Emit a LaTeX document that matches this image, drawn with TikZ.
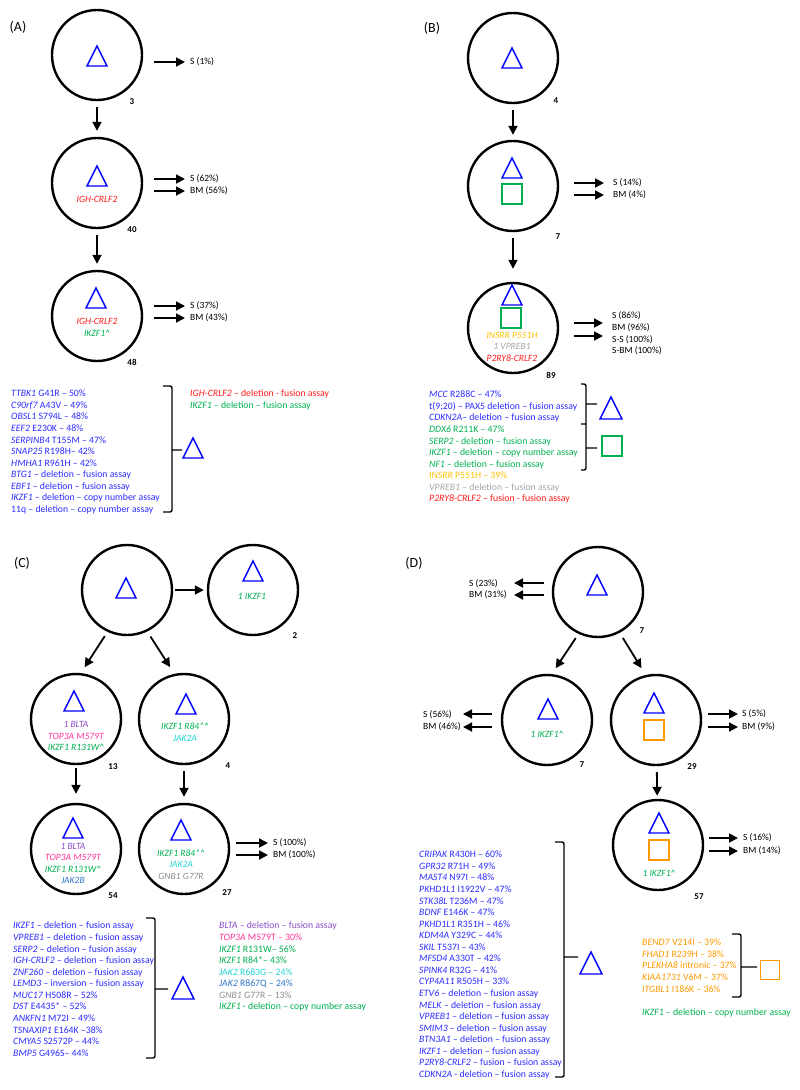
\documentclass[tikz,border=0pt]{standalone}
\usepackage{fontspec}
\setmainfont{Carlito}
\usetikzlibrary{arrows.meta,positioning,calc}
\definecolor{cblue}{HTML}{0000FF}
\definecolor{tblue}{HTML}{2B2BFF}
\definecolor{cred}{HTML}{FF1A1A}
\definecolor{cgreen}{HTML}{00B050}
\definecolor{cgold}{HTML}{FFC000}
\definecolor{cgray}{HTML}{A6A6A6}
\definecolor{cdgray}{HTML}{8C8C8C}
\definecolor{cpurple}{HTML}{8A4CC8}
\definecolor{cpink}{HTML}{FF3399}
\definecolor{ccyan}{HTML}{22D4D4}
\definecolor{csteel}{HTML}{2E75C6}
\definecolor{corange}{HTML}{FF9900}
\tikzset{
  clone/.style={circle,draw,line width=2.4bp,minimum size=90bp,inner sep=0pt},
  arr/.style={-{Triangle[length=9bp,width=9bp]},line width=1.8bp},
  cnt/.style={font=\fontsize{9}{10}\selectfont\bfseries,inner sep=0pt},
  lab/.style={font=\fontsize{9.5}{11.6}\selectfont,inner sep=0pt,align=left},
  mut/.style={font=\fontsize{9.6}{11.6}\selectfont\itshape,align=center,inner sep=0pt},
  list/.style={font=\fontsize{9.8}{11.6}\selectfont,align=left,inner sep=0pt,anchor=north west},
  panel/.style={font=\fontsize{14}{16}\selectfont,inner sep=0pt},
  brk/.style={line width=1.4bp,rounded corners=2bp},
  tri/.pic={\draw[cblue,line width=1.4bp] (-10,10) -- (10,10) -- (0,-10) -- cycle;},
  sq/.pic={\draw[line width=1.4bp,pic actions] (-10,-10) rectangle (10,10);},
}
\begin{document}
\begin{tikzpicture}[x=1bp,y=-1bp]
\useasboundingbox (0,0) rectangle (800,1090);

% ---- (A) --------------------------------------------------
\node[panel] (pA) at (18,27) {(A)};
\node[clone] (a1) at (97,55) {};
\pic at (97,56) {tri};
\node[cnt] (a1n) at (132,102) {3};
\node[lab,anchor=west] (a1s) at (190,62) {S (1\%)};
\draw[arr,shorten <=11bp,shorten >=5bp] (a1.east |- a1s.west) -- (a1s.west);

\node[clone] (a2) at (97,183) {};
\pic at (97,176) {tri};
\node[mut,text=cred] (a2m) at (97,199) {IGH-CRLF2};
\node[cnt] (a2n) at (132,230) {40};
\node[lab,anchor=west] (a2s) at (190,179) {S (62\%)};
\node[lab,anchor=west] (a2b) at (190,191) {BM (56\%)};
\draw[arr,shorten <=11bp,shorten >=5bp] (a2.east |- a2s.west) -- (a2s.west);
\draw[arr,shorten <=11bp,shorten >=5bp] (a2.east |- a2b.west) -- (a2b.west);

\node[clone] (a3) at (97,316) {};
\pic at (96,298) {tri};
\node[mut] (a3m) at (97,327.5) {\textcolor{cred}{IGH-CRLF2}\\\textcolor{cgreen}{IKZF1\textasciicircum}};
\node[cnt] (a3n) at (132,362) {48};
\node[lab,anchor=west] (a3s) at (190,306) {S (37\%)};
\node[lab,anchor=west] (a3b) at (190,318) {BM (43\%)};
\draw[arr,shorten <=11bp,shorten >=5bp] (a3.east |- a3s.west) -- (a3s.west);
\draw[arr,shorten <=11bp,shorten >=5bp] (a3.east |- a3b.west) -- (a3b.west);

\draw[arr,shorten <=6bp,shorten >=6bp] (a1) -- (a2);
\draw[arr,shorten <=6bp,shorten >=6bp] (a2) -- (a3);

% A mutations
\node[list,text=tblue] (aL) at (11,390) {\textit{TTBK1} G41R – 50\%\\
  \textit{C90rf7} A43V – 49\%\\
  \textit{OBSL1} S794L – 48\%\\
  \textit{EEF2} E230K – 48\%\\
  \textit{SERPINB4} T155M – 47\%\\
  \textit{SNAP25} R198H– 42\%\\
  \textit{HMHA1} R961H – 42\%\\
  \textit{BTG1} – deletion – fusion assay\\
  \textit{EBF1} – deletion – fusion assay\\
  \textit{IKZF1} – deletion – copy number assay\\
  11q – deletion – copy number assay};
\draw[brk] (163,386) -- (172,386) -- (172,512) -- (163,512) (172,450) -- (182,450);
\pic at (193,448) {tri};
\node[list,text=cred] (aR) at (190,390) {\textit{IGH-CRLF2} – deletion - fusion assay\\
  \textcolor{cgreen}{\textit{IKZF1} – deletion – fusion assay}};

% ---- (B) --------------------------------------------------
\node[panel] (pB) at (432,28) {(B)};
\node[clone] (b1) at (513,58) {};
\pic at (512,58) {tri};
\node[cnt] (b1n) at (556,101) {4};

\node[clone] (b2) at (513,186) {};
\pic at (512,168) {tri};
\pic[draw=cgreen] at (512,194) {sq};
\node[cnt] (b2n) at (558,237) {7};
\node[lab,anchor=west] (b2s) at (613,183) {S (14\%)};
\node[lab,anchor=west] (b2b) at (613,195) {BM (4\%)};
\draw[arr,shorten <=15bp,shorten >=9bp] (b2.east |- b2s.west) -- (b2s.west);
\draw[arr,shorten <=15bp,shorten >=9bp] (b2.east |- b2b.west) -- (b2b.west);

\node[clone] (b3) at (513,328) {};
\pic at (512,295) {tri};
\pic[draw=cgreen] at (511,318) {sq};
\node[mut] (b3m) at (512,346.5) {\textcolor{cgold}{INSRR P551H}\\\textcolor{cgray}{1 VPREB1}\\\textcolor{cred}{P2RY8-CRLF2}};
\node[cnt] (b3n) at (551,375) {89};
\node[lab,anchor=west] (b3s) at (612,333.5) {S (86\%)\\BM (96\%)\\S-S (100\%)\\S-BM (100\%)};
\coordinate (b3t1) at (603,323);
\coordinate (b3t2) at (603,336);
\draw[arr,shorten <=15bp] (b3.east |- b3t1) -- (b3t1);
\draw[arr,shorten <=15bp] (b3.east |- b3t2) -- (b3t2);

\draw[arr,shorten <=6bp,shorten >=5bp] (b1) -- (b2);
\draw[arr,shorten <=6bp,shorten >=13bp] (b2) -- (b3);

% B mutations
\node[list,text=tblue] (bL) at (429,391) {\textit{MCC} R288C – 47\%\\
  t(9;20) – PAX5 deletion – fusion assay\\
  \textit{CDKN2A}– deletion – fusion assay\\
  \textcolor{cgreen}{\textit{DDX6} R211K – 47\%}\\
  \textcolor{cgreen}{\textit{SERP2} - deletion – fusion assay}\\
  \textcolor{cgreen}{\textit{IKZF1} – deletion – copy number assay}\\
  \textcolor{cgreen}{\textit{NF1} – deletion – fusion assay}\\
  \textcolor{cgold}{\textit{INSRR} P551H – 39\%}\\
  \textcolor{cgray}{\textit{VPREB1} – deletion – fusion assay}\\
  \textcolor{cred}{\textit{P2RY8-CRLF2} – fusion - fusion assay}};
\draw[brk] (581,384) -- (586,384) -- (586,470) -- (581,470)
  (581,424) -- (586,424) (586,404) -- (597,404) (586,448) -- (597,448);
\pic[scale=1.1] at (611,408) {tri};
\pic[draw=cgreen] at (612,446) {sq};

% ---- (C) --------------------------------------------------
\node[panel] (pC) at (22,563) {(C)};
\node[clone] (c1) at (127,590) {};
\pic at (126,588) {tri};

\node[clone] (c2) at (253,590) {};
\pic at (253,571) {tri};
\node[mut,text=cgreen] (c2m) at (252,596) {1 IKZF1};
\node[cnt] (c2n) at (295,636) {2};

\node[clone] (c3) at (76,719) {};
\pic at (74,701) {tri};
\node[mut] (c3m) at (76,736) {\textcolor{cpurple}{1 BLTA}\\\textcolor{cpink}{TOP3A M579T}\\\textcolor{cgreen}{IKZF1 R131W\textasciicircum}};
\node[cnt] (c3n) at (113,767) {13};

\node[clone] (c4) at (184,719) {};
\pic at (186,704) {tri};
\node[mut] (c4m) at (185,732) {\textcolor{cgreen}{IKZF1 R84*\textasciicircum}\\\textcolor{ccyan}{JAK2A}};
\node[cnt] (c4n) at (228,766) {4};

\node[clone] (c5) at (76,849) {};
\pic at (73,828) {tri};
\node[mut] (c5m) at (73,863.5) {\textcolor{cpurple}{1 BLTA}\\\textcolor{cpink}{TOP3A M579T}\\\textcolor{cgreen}{IKZF1 R131W\textasciicircum}\\\textcolor{csteel}{JAK2B}};
\node[cnt] (c5n) at (113,896) {54};

\node[clone] (c6) at (184,849) {};
\pic at (181,830) {tri};
\node[mut] (c6m) at (181,864.5) {\textcolor{cgreen}{IKZF1 R84*\textasciicircum}\\\textcolor{ccyan}{JAK2A}\\\textcolor{cdgray}{GNB1 G77R}};
\node[cnt] (c6n) at (227,893) {27};
\node[lab,anchor=west] (c6s) at (273,843) {S (100\%)};
\node[lab,anchor=west] (c6b) at (273,855) {BM (100\%)};
\draw[arr,shorten <=6bp,shorten >=5bp] (c6.east |- c6s.west) -- (c6s.west);
\draw[arr,shorten <=6bp,shorten >=5bp] (c6.east |- c6b.west) -- (c6b.west);

\draw[arr,shorten <=2bp,shorten >=3bp] (c1) -- (c2);
\draw[arr,shorten <=5bp,shorten >=7bp] (c1.-115) -- (c3.84);
\draw[arr,shorten <=6bp,shorten >=8bp] (c1.-64) -- (c4.102);
\draw[arr,shorten <=3bp,shorten >=9bp] (c3) -- (c5);
\draw[arr,shorten <=6bp,shorten >=6bp] (c4) -- (c6);

% C mutations
\node[list,text=tblue] (cL) at (13,922) {\textit{IKZF1} – deletion – fusion assay\\
  \textit{VPREB1} – deletion – fusion assay\\
  \textit{SERP2} – deletion – fusion assay\\
  \textit{IGH-CRLF2} – deletion – fusion assay\\
  \textit{ZNF260} – deletion – fusion assay\\
  \textit{LEMD3} – inversion – fusion assay\\
  \textit{MUC17} H508R – 52\%\\
  \textit{DST} E4435* – 52\%\\
  \textit{ANKFN1} M72I – 49\%\\
  \textit{TSNAXIP1} E164K –38\%\\
  \textit{CMYA5} S2572P – 44\%\\
  \textit{BMP5} G496S– 44\%};
\draw[brk] (146,918) -- (155,918) -- (155,1058) -- (146,1058) (155,989) -- (168,989);
\pic[scale=1.1] at (183,988) {tri};
\node[list] (cR) at (219,922) {\textcolor{cpurple}{\textit{BLTA} – deletion – fusion assay}\\
  \textcolor{cpink}{\textit{TOP3A} M579T – 30\%}\\
  \textcolor{cgreen}{\textit{IKZF1} R131W– 56\%}\\
  \textcolor{cgreen}{\textit{IKZF1} R84*– 43\%}\\
  \textcolor{ccyan}{\textit{JAK2} R683G – 24\%}\\
  \textcolor{csteel}{\textit{JAK2} R867Q – 24\%}\\
  \textcolor{cdgray}{\textit{GNB1} G77R – 13\%}\\
  \textcolor{cgreen}{\textit{IKZF1} - deletion – copy number assay}};

% ---- (D) --------------------------------------------------
\node[panel] (pD) at (414,563) {(D)};
\node[clone] (d1) at (598,592) {};
\pic at (597,585) {tri};
\node[cnt] (d1n) at (642,631) {7};
\node[lab,anchor=west] (d1s) at (469,589) {S (23\%)\\BM (31\%)};
\coordinate (d1t1) at (514,583);
\coordinate (d1t2) at (514,595);
\draw[arr,shorten <=8bp] (d1.west |- d1t1) -- (d1t1);
\draw[arr,shorten <=8bp] (d1.west |- d1t2) -- (d1t2);

\node[clone] (d2) at (547,720) {};
\pic at (548,709) {tri};
\node[mut,text=cgreen] (d2m) at (547,734) {1 IKZF1\textasciicircum};
\node[cnt] (d2n) at (582,765) {7};
\node[lab,anchor=west] (d2s) at (423,720.5) {S (56\%)\\BM (46\%)};
\coordinate (d2t1) at (463,714);
\coordinate (d2t2) at (463,727);
\draw[arr,shorten <=9bp] (d2.west |- d2t1) -- (d2t1);
\draw[arr,shorten <=9bp] (d2.west |- d2t2) -- (d2t2);

\node[clone] (d3) at (656,720) {};
\pic at (654,703) {tri};
\pic[draw=corange] at (654,730) {sq};
\node[cnt] (d3n) at (692,767) {29};
\node[lab,anchor=west] (d3s) at (742,714) {S (5\%)};
\node[lab,anchor=west] (d3b) at (742,727) {BM (9\%)};
\draw[arr,shorten <=6bp,shorten >=4bp] (d3.east |- d3s.west) -- (d3s.west);
\draw[arr,shorten <=6bp,shorten >=4bp] (d3.east |- d3b.west) -- (d3b.west);

\node[clone] (d4) at (658,845) {};
\pic at (659,823) {tri};
\pic[draw=corange] at (659,850) {sq};
\node[mut,text=cgreen] (d4m) at (659,873) {1 IKZF1\textasciicircum};
\node[cnt] (d4n) at (699,897) {57};
\node[lab,anchor=west] (d4s) at (743,838) {S (16\%)};
\node[lab,anchor=west] (d4b) at (743,851) {BM (14\%)};
\draw[arr,shorten <=5bp,shorten >=5bp] (d4.east |- d4s.west) -- (d4s.west);
\draw[arr,shorten <=5bp,shorten >=5bp] (d4.east |- d4b.west) -- (d4b.west);

\draw[arr,shorten <=5bp,shorten >=7bp] (d1.-115) -- (d2.84);
\draw[arr,shorten <=6bp,shorten >=8bp] (d1.-62) -- (d3.103);
\draw[arr,shorten <=6bp,shorten >=3bp] (d3) -- (d4);

% D mutations
\node[list,text=tblue] (dL) at (419,851) {\textit{CRIPAK} R430H – 60\%\\
  \textit{GPR32} R71H – 49\%\\
  \textit{MAST4} N97I – 48\%\\
  \textit{PKHD1L1} I1922V – 47\%\\
  \textit{STK38L} T236M – 47\%\\
  \textit{BDNF} E146K – 47\%\\
  \textit{PKHD1L1} R351H – 46\%\\
  \textit{KDM4A} Y329C – 44\%\\
  \textit{SKIL} T537I – 43\%\\
  \textit{MFSD4} A330T – 42\%\\
  \textit{SPINK4} R32G – 41\%\\
  \textit{CYP4A11} R505H – 33\%\\
  \textit{ETV6} – deletion – fusion assay\\
  \textit{MELK} – deletion – fusion assay\\
  \textit{VPREB1} – deletion – fusion assay\\
  \textit{SMIM3} – deletion – fusion assay\\
  \textit{BTN3A1} – deletion – fusion assay\\
  \textit{IKZF1} – deletion – fusion assay\\
  \textit{P2RY8-CRLF2} – fusion – fusion assay\\
  \textit{CDKN2A} - deletion – fusion assay};
\draw[brk] (555,842) -- (564,842) -- (564,1077) -- (555,1077) (564,957) -- (578,957);
\pic[scale=1.1] at (591,963) {tri};
\node[list,text=corange] (dR) at (642,939) {\textit{BEND7} V214I – 39\%\\
  \textit{FHAD1} R239H – 38\%\\
  \textit{PLEKHA8} intronic – 37\%\\
  \textit{KIAA1731} V6M – 37\%\\
  \textit{ITGBL1} I186K – 36\%};
\draw[brk] (732,934) -- (741,934) -- (741,997) -- (732,997) (741,967) -- (757,967);
\pic[draw=corange,scale=0.95] at (770,970) {sq};
\node[list,text=cgreen] (dG) at (642,1009) {\textit{IKZF1} – deletion – copy number assay};

\end{tikzpicture}
\end{document}
